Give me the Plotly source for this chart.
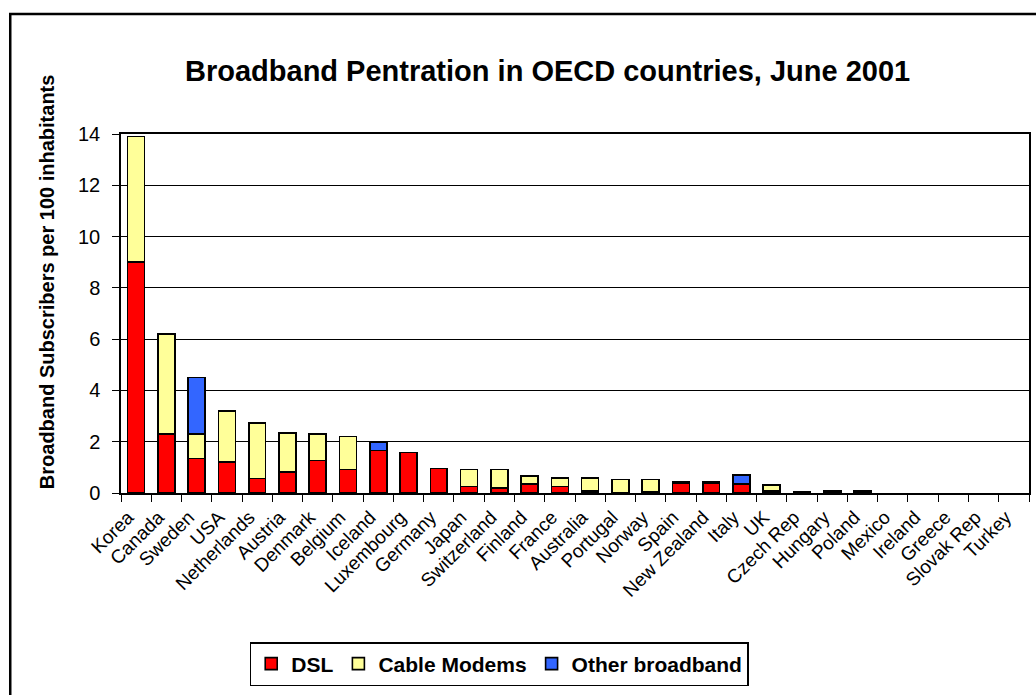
import plotly.graph_objects as go

# Broadband subscribers per 100 inhabitants, June 2001
countries = ["Korea", "Canada", "Sweden", "USA", "Netherlands", "Austria", "Denmark",
             "Belgium", "Iceland", "Luxembourg", "Germany", "Japan", "Switzerland",
             "Finland", "France", "Australia", "Portugal", "Norway", "Spain",
             "New Zealand", "Italy", "UK", "Czech Rep", "Hungary", "Poland", "Mexico",
             "Ireland", "Greece", "Slovak Rep", "Turkey"]

dsl = [9.0, 2.3, 1.34, 1.2, 0.57, 0.82, 1.27, 0.91, 1.65, 1.58, 0.96, 0.26, 0.19,
       0.35, 0.26, 0.08, 0.0, 0.04, 0.38, 0.38, 0.36, 0.08, 0.02, 0.03, 0.03, 0.0,
       0.0, 0.0, 0.0, 0.0]
cable = [4.9, 3.9, 0.95, 2.0, 2.16, 1.52, 1.02, 1.30, 0.0, 0.0, 0.0, 0.65, 0.72,
         0.31, 0.32, 0.50, 0.52, 0.48, 0.05, 0.05, 0.0, 0.23, 0.04, 0.04, 0.04, 0.0,
         0.0, 0.0, 0.0, 0.0]
other = [0.0, 0.0, 2.21, 0.0, 0.0, 0.0, 0.0, 0.0, 0.32, 0.0, 0.0, 0.0, 0.0, 0.0,
         0.0, 0.0, 0.0, 0.0, 0.0, 0.0, 0.34, 0.0, 0.0, 0.0, 0.0, 0.0, 0.0, 0.0, 0.0,
         0.0]

y_ticks = [0, 2, 4, 6, 8, 10, 12, 14]

FONT = "Liberation Sans, Arial, sans-serif"
outline = dict(color="black", width=1.6)


def nonzero(values):
    # empty segments are left out so no outline is drawn for them
    return [v if v else None for v in values]


fig = go.Figure()
fig.add_trace(go.Bar(x=countries, y=nonzero(dsl), name="DSL",
                     marker=dict(color="#FF0000", line=outline)))
fig.add_trace(go.Bar(x=countries, y=nonzero(cable), name="Cable Modems",
                     marker=dict(color="#FFFF99", line=outline)))
fig.add_trace(go.Bar(x=countries, y=nonzero(other), name="Other broadband",
                     marker=dict(color="#3366FF", line=outline)))

L, R, T, B = 121, 5, 134, 202
W, H = 1036, 695
pw, ph = W - L - R, H - T - B


def px_x(px):
    return (px - L) / pw


def px_y(py):
    return (H - B - py) / ph


fig.update_layout(
    width=W, height=H,
    margin=dict(l=L, r=R, t=T, b=B),
    paper_bgcolor="white", plot_bgcolor="white",
    barmode="stack", bargap=0.44,
    font=dict(family=FONT, color="black"),
    showlegend=True,
    legend=dict(orientation="h", x=px_x(250), y=px_y(642), xanchor="left",
                yanchor="top", bordercolor="black", borderwidth=1.5,
                font=dict(family=FONT, size=21, color="black", weight="bold"),
                itemwidth=30, traceorder="normal"),
    xaxis=dict(type="category", tickson="boundaries", ticks="outside", ticklen=7,
               tickwidth=1.3, tickcolor="black", showline=True, linecolor="black",
               linewidth=1.5, mirror=True, showgrid=False, tickangle=-45,
               ticklabelshift=-8, ticklabelstandoff=4,
               tickfont=dict(family=FONT, size=19, color="black")),
    yaxis=dict(range=[0, 14], tickvals=y_ticks, ticks="outside", ticklen=7,
               tickwidth=1.3, tickcolor="black", showline=True, linecolor="black",
               linewidth=1.5, mirror=True, showgrid=True, gridcolor="black",
               gridwidth=1.3, zeroline=False, ticklabelstandoff=8,
               tickfont=dict(family=FONT, size=20, color="black")),
    annotations=[
        dict(text="Broadband Pentration in OECD countries, June 2001",
             xref="paper", yref="paper", x=px_x(548), y=px_y(71),
             xanchor="center", yanchor="middle", showarrow=False,
             font=dict(family=FONT, size=29, color="black", weight="bold")),
        dict(text="Broadband Subscribers per 100 inhabitants",
             xref="paper", yref="paper", x=px_x(47), y=px_y(282),
             xanchor="center", yanchor="middle", showarrow=False, textangle=-90,
             font=dict(family=FONT, size=20, color="black", weight="bold")),
    ],
    shapes=[
        dict(type="rect", xref="paper", yref="paper", layer="below",
             x0=px_x(10), x1=px_x(1100), y0=px_y(14), y1=px_y(760),
             line=dict(color="black", width=2.5)),
    ],
)

fig.write_html("out.html")
